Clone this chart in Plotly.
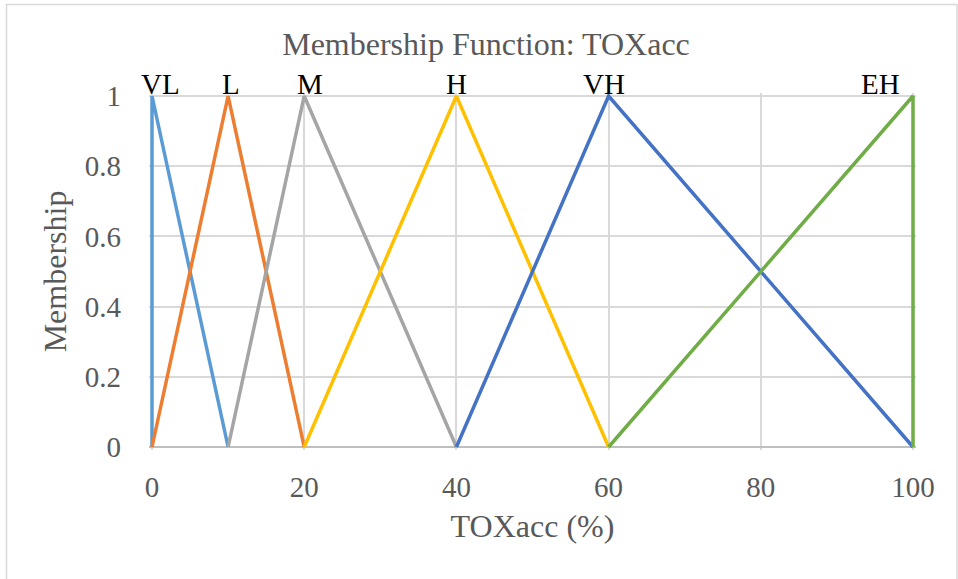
import plotly.graph_objects as go

# Data
series_names = ["VL", "L", "M", "H", "VH", "EH"]
series_x = [
    [0, 0, 10],
    [0, 10, 20],
    [10, 20, 40],
    [20, 40, 60],
    [40, 60, 100],
    [60, 100, 100],
]
series_y = [
    [0, 1, 0],
    [0, 1, 0],
    [0, 1, 0],
    [0, 1, 0],
    [0, 1, 0],
    [0, 1, 0],
]
colors = ["#5B9BD5", "#ED7D31", "#A5A5A5", "#FFC000", "#4472C4", "#70AD47"]
label_x = [1.1, 10.4, 20.8, 40.0, 59.4, 95.7]
x_ticks = [0, 20, 40, 60, 80, 100]
y_ticks = [0, 0.2, 0.4, 0.6, 0.8, 1]
y_tick_text = ["0", "0.2", "0.4", "0.6", "0.8", "1"]

FONT = "Liberation Serif, Times New Roman, serif"
GRAY = "#595959"

W, H = 958, 579
# pixel positions of data 0/100 and 0/1
X0, X1 = 152, 913
Y1, Y0 = 96, 447
PAD = 3  # px of extra room so edge lines are not clipped
ux = 100 / (X1 - X0)
uy = 1 / (Y0 - Y1)
L, R, T, B = X0 - PAD, W - X1 - PAD, Y1 - PAD, H - Y0 - PAD

fig = go.Figure()
for name, xs, ys, c in zip(series_names, series_x, series_y, colors):
    fig.add_trace(go.Scatter(x=xs, y=ys, mode="lines", name=name, cliponaxis=False,
                             line=dict(color=c, width=3.5), showlegend=False))

for name, lx in zip(series_names, label_x):
    fig.add_annotation(x=lx, y=1, xref="x", yref="y", text=name, showarrow=False,
                       yanchor="bottom", xanchor="center", yshift=-6,
                       font=dict(family=FONT, size=29, color="black"))

fig.update_layout(
    width=W, height=H,
    margin=dict(l=L, r=R, t=T, b=B),
    paper_bgcolor="white", plot_bgcolor="white",
    font=dict(family=FONT, size=29, color=GRAY),
    title=dict(text="Membership Function: TOXacc", x=486 / W, xanchor="center",
               y=1 - 44 / H, yanchor="middle", font=dict(family=FONT, size=32, color=GRAY)),
    xaxis=dict(range=[-PAD * ux, 100 + PAD * ux], tickvals=x_ticks, showgrid=True, gridcolor="#D9D9D9",
               gridwidth=1.5, zeroline=False, showline=False,
               ticks="", ticklabelstandoff=17, tickfont=dict(size=29),
               title=dict(text="TOXacc (%)", font=dict(family=FONT, size=32, color=GRAY), standoff=12)),
    yaxis=dict(range=[-PAD * uy, 1 + PAD * uy], tickvals=y_ticks, ticktext=y_tick_text, showgrid=True,
               gridcolor="#D9D9D9", gridwidth=1.5, zeroline=True, zerolinecolor="#BFBFBF",
               zerolinewidth=2, showline=False,
               ticks="", ticklabelstandoff=27, tickfont=dict(size=29),
               title=dict(text="Membership", font=dict(family=FONT, size=32, color=GRAY), standoff=8)),
)

pw, ph = W - L - R, H - T - B
def px_x(p):
    return (p - L) / pw
def px_y(p):
    return 1 - (p - T) / ph

fig.add_shape(type="rect", xref="paper", yref="paper",
              x0=px_x(6.5), x1=px_x(957), y0=px_y(600), y1=px_y(4.5),
              line=dict(color="#D9D9D9", width=1.5), layer="below")

fig.write_html("out.html")
